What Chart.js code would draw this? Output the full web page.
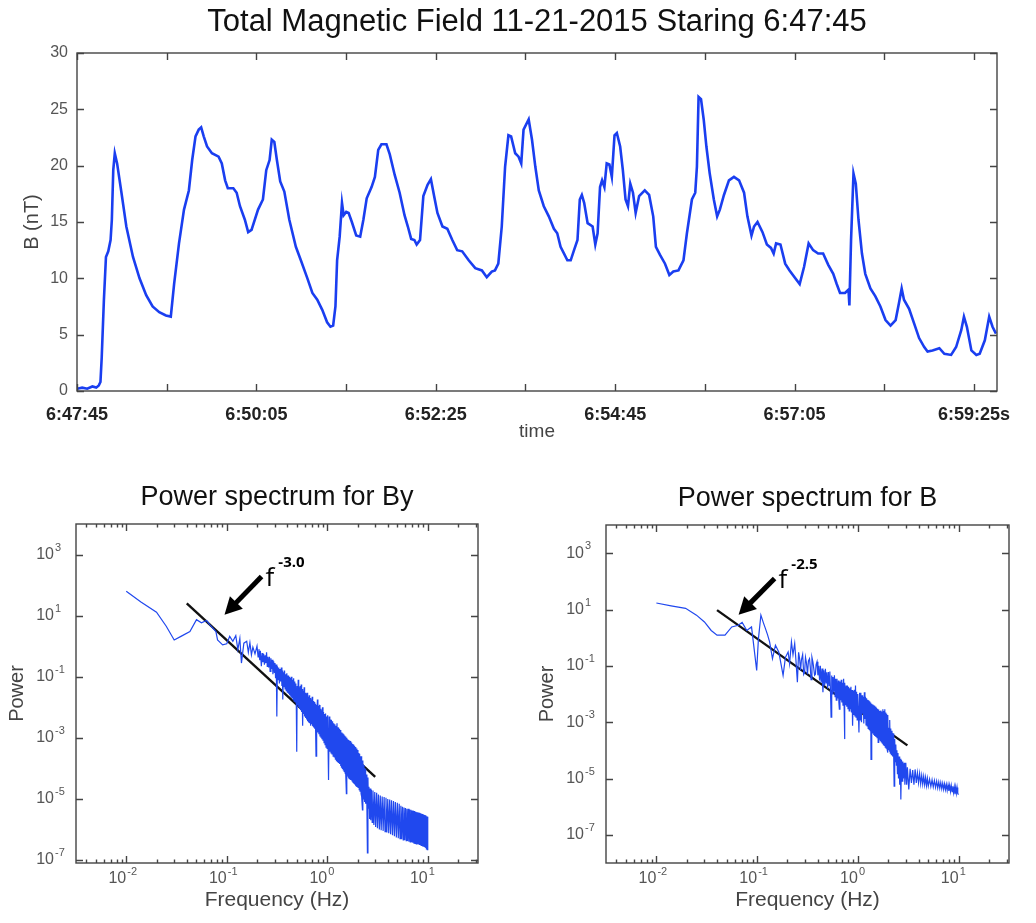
<!DOCTYPE html>
<html>
<head>
<meta charset="utf-8">
<title>Total Magnetic Field 11-21-2015</title>
<script src="https://cdn.jsdelivr.net/npm/chart.js@4.4.1/dist/chart.umd.min.js"></script>
<style>
    html, body { margin: 0; padding: 0; background: #fff; }
    #page { position: relative; width: 1036px; height: 923px; overflow: hidden; }
    #page canvas { position: absolute; }
    #fieldChart { left: 0; top: 0; }
    #byChart { left: 0; top: 460px; }
    #bChart { left: 518px; top: 460px; }
</style>
</head>
<body>
<div id="page">
    <canvas id="fieldChart" width="1036" height="460"></canvas>
    <canvas id="byChart" width="518" height="463"></canvas>
    <canvas id="bChart" width="518" height="463"></canvas>
</div>
<script>
// ---- dades llegides de la figura ----

// temps (s des de 6:47:45) i camp total B (nT)
const totalField = [
    [0, 0.2], [4, 0.3], [8, 0.2], [12, 0.4], [15, 0.3], [17, 0.5], [18.3, 0.8], [19.3, 3.0],
    [21, 8.1], [22.6, 11.9], [24.4, 12.4], [26.2, 13.4], [27.2, 15.2], [28.3, 19.6], [29.5, 21.1],
    [31.3, 20.2], [34.7, 17.6], [38.5, 14.6], [43.7, 11.9], [48.8, 10.0], [54, 8.5], [59, 7.5],
    [64.2, 7.0], [69.4, 6.7], [73.2, 6.6], [75.8, 9.5], [79.6, 13.1], [83.5, 16.1], [87.3, 17.8],
    [89.9, 20.5], [92.5, 22.6], [95, 23.2], [96.9, 23.4], [98.9, 22.6], [101.5, 21.7], [105.3, 21.1],
    [110.5, 20.8], [113, 20.2], [115.6, 18.7], [117.7, 18.0], [122, 18.0], [124.6, 17.6], [127.2, 16.4],
    [131, 15.2], [133.6, 14.1], [136.2, 14.3], [141.3, 16.1], [145.1, 17.0], [147.7, 19.6], [150.3, 20.5],
    [152, 22.3], [154, 22.1], [156, 20.5], [158.6, 18.6], [161.8, 17.7], [165.7, 15.2], [170.8, 12.8],
    [174.7, 11.6], [179.8, 10.0], [183.7, 8.7], [187.5, 8.1], [191.4, 7.2], [195.2, 6.1], [197.8, 5.7],
    [199.9, 5.8], [201.7, 7.5], [203, 11.6], [205, 13.7], [206.8, 16.7], [208.1, 15.6], [210.1, 15.9],
    [212, 15.8], [214.5, 15.0], [217.9, 13.8], [221, 13.7], [223.5, 15.2], [226.1, 17.1], [229.9, 18.1],
    [232.5, 19.0], [235.1, 21.4], [237.6, 21.9], [241.5, 21.9], [244.1, 21.0], [247.9, 19.2], [251.8, 17.6],
    [255.6, 15.6], [258.2, 14.6], [260.8, 13.5], [263.3, 13.4], [265.1, 13.0], [267.7, 13.4], [270.3, 17.3],
    [273.6, 18.3], [276.2, 18.8], [278.7, 17.3], [281.3, 15.8], [285.2, 14.6], [289, 14.4], [292.9, 13.4],
    [296.7, 12.5], [300.6, 12.4], [305.7, 11.6], [310.8, 10.9], [316, 10.7], [319.8, 10.1], [323.7, 10.6],
    [326.2, 10.7], [328.8, 11.3], [331.5, 14.6], [334.1, 19.9], [336.7, 22.7], [338.8, 22.6], [342, 21.1],
    [344.6, 20.8], [346.7, 20.2], [348.5, 23.2], [352.5, 24.1], [355.1, 22.3], [357.7, 19.9], [360.4, 17.8],
    [364.3, 16.4], [368.2, 15.5], [372.2, 14.4], [374.8, 14.0], [377.4, 12.8], [380.1, 12.2], [382.7, 11.6],
    [385.3, 11.6], [387.9, 12.5], [390.6, 13.4], [392.4, 17.0], [394, 17.4], [395.8, 16.7], [398.5, 14.9],
    [402.4, 14.6], [404.5, 13.0], [406.3, 14.0], [408.2, 18.1], [409.8, 18.7], [411.6, 18.1], [413.4, 20.2],
    [415.5, 20.1], [417.4, 19.0], [419.5, 22.7], [421.3, 22.9], [423.9, 21.7], [426, 19.6], [428.1, 17.0],
    [430, 16.4], [431.8, 18.4], [433.9, 17.6], [436, 15.8], [438.7, 17.3], [443.1, 17.8], [446.5, 17.4],
    [449.7, 15.5], [451.8, 12.8], [454.9, 12.1], [458.9, 11.3], [462.3, 10.3], [465.4, 10.6], [469.4, 10.7],
    [473.3, 11.6], [476, 14.0], [479.9, 17.0], [482.5, 17.6], [483.8, 19.9], [485.1, 26.1], [487, 25.9],
    [489.1, 24.1], [491.2, 21.7], [493.8, 19.3], [497, 17.0], [499.6, 15.5], [501.7, 16.1], [504.9, 17.4],
    [508.8, 18.7], [512.7, 19.0], [516.7, 18.7], [520.6, 17.6], [523.2, 15.5], [526.4, 13.8], [528.4, 14.6],
    [531.1, 15.0], [535, 14.1], [538.4, 13.0], [541.6, 12.7], [543.7, 12.2], [545.6, 13.1], [549, 13.0],
    [552.7, 11.3], [556.1, 10.7], [560, 10.1], [564, 9.5], [567.4, 11.0], [571, 13.1], [574.5, 12.5],
    [578.4, 12.2], [582.3, 12.2], [586.3, 11.2], [590.2, 10.4], [592.9, 9.5], [595.5, 8.7], [599.4, 8.7],
    [602.1, 9.0], [602.8, 7.6], [604.1, 13.4], [606, 19.3], [607.8, 18.4], [609.9, 15.2], [612.6, 12.2],
    [615.2, 10.4], [619.2, 9.1], [623.1, 8.4], [627, 7.5], [631, 6.3], [634.9, 5.8], [638.9, 6.3],
    [641.5, 7.8], [643.6, 9.1], [645.4, 8.1], [649.4, 7.3], [653.3, 6.0], [657.2, 4.7], [661.2, 3.9],
    [663.8, 3.5], [667.7, 3.6], [673, 3.8], [676.9, 3.3], [682.2, 3.2], [686.1, 3.9], [690.1, 5.4],
    [692.2, 6.6], [694.5, 5.7], [698, 3.6], [701.9, 3.2], [704.5, 3.3], [708.5, 4.5], [711.9, 6.6],
    [714.5, 5.7], [717.2, 5.1]
];

const timeTicks = [0, 70, 140, 210, 280, 350, 420, 490, 560, 630, 700];
const timeLabels = ['6:47:45', '6:50:05', '6:52:25', '6:54:45', '6:57:05', '6:59:25s'];

// espectre de potència de By: [freqüència (Hz), potència]
const bySpectrum = [
    [0.010, 63], [0.014, 28], [0.020, 13], [0.025, 4.5], [0.030, 1.6], [0.035, 2.1], [0.043, 3.0],
    [0.050, 7.4], [0.056, 5.8], [0.063, 6.9], [0.068, 5.0], [0.078, 3.0], [0.081, 1.6], [0.091, 1.1],
    [0.100, 1.2], [0.107, 2.1], [0.115, 1.45], [0.123, 2.2], [0.129, 0.78], [0.135, 1.8], [0.140, 0.28],
    [0.148, 1.26], [0.158, 1.45], [0.164, 0.63], [0.170, 1.3], [0.176, 0.52], [0.182, 0.93], [0.191, 0.56],
    [0.200, 1.0], [0.205, 0.45], [0.209, 0.8], [0.213, 0.35], [0.216, 0.71], [0.221, 0.22], [0.225, 0.6],
    [0.229, 0.30], [0.233, 0.55], [0.237, 0.25], [0.241, 0.5], [0.245, 0.28], [0.249, 0.63], [0.253, 0.22],
    [0.257, 0.45], [0.261, 0.2], [0.266, 0.45], [0.270, 0.15], [0.275, 0.4], [0.279, 0.18], [0.284, 0.36],
    [0.288, 0.12], [0.293, 0.32], [0.298, 0.14], [0.302, 0.28],
    [0.306, 0.09], [0.311, 0.25], [0.315, 0.005], [0.319, 0.22], [0.324, 0.08], [0.329, 0.2], [0.334, 0.06],
    [0.339, 0.18], [0.344, 0.07], [0.349, 0.2], [0.354, 0.05], [0.358, 0.16], [0.361, 0.018], [0.366, 0.14],
    [0.371, 0.045], [0.376, 0.16], [0.381, 0.04], [0.386, 0.12], [0.391, 0.035], [0.396, 0.13], [0.401, 0.03],
    [0.407, 0.11], [0.412, 0.028], [0.417, 0.1], [0.423, 0.025], [0.428, 0.09], [0.434, 0.022], [0.440, 0.1],
    [0.445, 0.02], [0.451, 0.08], [0.457, 0.018], [0.463, 0.09], [0.469, 0.016], [0.475, 0.07], [0.481, 0.015],
    [0.487, 0.06], [0.492, 0.013], [0.497, 3.5e-4], [0.502, 0.05],
    [0.508, 0.012], [0.514, 0.08], [0.520, 0.01], [0.526, 0.045], [0.532, 0.009], [0.538, 0.05], [0.544, 0.008],
    [0.550, 0.056], [0.556, 0.007], [0.563, 0.04], [0.569, 0.0025], [0.576, 0.035], [0.582, 0.006],
    [0.589, 0.045], [0.595, 0.005], [0.602, 0.03], [0.610, 0.0045], [0.617, 0.028], [0.624, 0.004],
    [0.631, 0.03], [0.638, 0.0035], [0.646, 0.022], [0.653, 0.0032], [0.661, 0.025], [0.668, 0.003],
    [0.676, 0.02], [0.684, 0.0025], [0.692, 0.018], [0.700, 0.0028], [0.708, 0.022], [0.716, 0.0024],
    [0.725, 0.016], [0.733, 0.0022], [0.742, 0.015], [0.750, 0.002], [0.759, 0.013], [0.766, 0.0018],
    [0.773, 2.5e-4], [0.780, 0.012], [0.789, 0.0016], [0.798, 0.018], [0.807, 0.0015], [0.817, 0.011],
    [0.826, 0.0013], [0.836, 0.012], [0.846, 0.0011], [0.856, 0.009], [0.866, 0.001], [0.876, 0.008],
    [0.886, 9e-4], [0.897, 0.01], [0.907, 8e-4], [0.918, 0.007], [0.929, 7e-4], [0.940, 0.006],
    [0.951, 6e-4], [0.962, 0.0063], [0.973, 5e-4], [0.985, 0.005],
    [0.997, 4.5e-4], [1.01, 0.0055], [1.02, 4e-4], [1.03, 4.2e-5], [1.045, 0.005], [1.06, 3.5e-4],
    [1.075, 0.004], [1.09, 3.2e-4], [1.10, 0.0039], [1.115, 3e-4], [1.13, 0.0035], [1.145, 2.5e-4],
    [1.16, 0.003], [1.175, 2.4e-4], [1.19, 0.0028], [1.205, 2e-4], [1.22, 0.0025], [1.235, 1.8e-4],
    [1.25, 0.003], [1.265, 1.6e-4], [1.28, 0.0022], [1.295, 1.5e-4], [1.31, 0.002], [1.325, 1.4e-4],
    [1.34, 0.0018], [1.355, 1.2e-4], [1.37, 0.0016], [1.385, 1.1e-4], [1.40, 0.0015], [1.415, 1e-4],
    [1.43, 0.0014], [1.445, 9e-5], [1.46, 0.0013], [1.475, 8e-5], [1.49, 0.0012], [1.505, 7e-5],
    [1.52, 0.0011], [1.535, 6.5e-5], [1.55, 1.5e-5], [1.565, 0.001], [1.58, 6e-5], [1.60, 9e-4],
    [1.615, 5.5e-5], [1.63, 8.5e-4], [1.645, 5e-5], [1.66, 8e-4], [1.675, 4.5e-5], [1.69, 7.9e-4],
    [1.71, 4.2e-5], [1.725, 7e-4], [1.74, 4e-5], [1.76, 6.5e-4], [1.775, 3.8e-5], [1.79, 6.3e-4],
    [1.81, 3.5e-5], [1.83, 6e-4], [1.85, 3.2e-5], [1.87, 5.5e-4], [1.89, 3e-5], [1.91, 5e-4],
    [1.93, 2.8e-5], [1.95, 4.5e-4], [1.97, 2.6e-5], [2.00, 2.5e-5],
    [2.02, 4e-4], [2.04, 2.4e-5], [2.06, 3.2e-4], [2.08, 2e-5], [2.10, 3e-4], [2.12, 1.8e-5], [2.15, 2.5e-4],
    [2.17, 1.5e-5], [2.19, 2.5e-4], [2.21, 1.2e-5], [2.24, 4.4e-6], [2.26, 1.8e-4], [2.29, 1e-5],
    [2.32, 1.3e-4], [2.35, 8e-6], [2.38, 1e-4], [2.41, 7e-6], [2.45, 6.3e-5], [2.48, 6e-6], [2.51, 1.7e-7],
    [2.54, 5e-5], [2.57, 5e-6],
    [2.60, 2.5e-5], [2.64, 2.2e-6], [2.67, 2.2e-5], [2.71, 2e-6], [2.75, 2e-5], [2.80, 1.7e-6], [2.85, 1.9e-5],
    [2.91, 1.4e-6], [2.97, 1.7e-5], [3.03, 1.2e-6], [3.10, 1.6e-5], [3.16, 1.1e-6], [3.23, 1.4e-5],
    [3.30, 1e-6], [3.37, 1.3e-5], [3.44, 9.5e-7], [3.52, 1.2e-5], [3.60, 9e-7], [3.68, 1.15e-5],
    [3.76, 8.5e-7], [3.84, 1.1e-5], [3.92, 8e-7], [4.00, 1e-5], [4.09, 7.5e-7], [4.18, 9.5e-6],
    [4.27, 7e-7], [4.36, 9e-6], [4.46, 6.5e-7], [4.56, 8.5e-6], [4.66, 6e-7], [4.76, 8e-6], [4.87, 5.5e-7],
    [4.98, 7.5e-6], [5.09, 5.2e-7], [5.20, 7e-6],
    [5.3, 5e-7], [5.4, 6e-6], [5.5, 4.8e-7], [5.6, 5.5e-6], [5.7, 4.6e-7], [5.8, 5.2e-6], [5.9, 4.5e-7],
    [6.0, 5e-6], [6.1, 4.3e-7], [6.2, 4.8e-6], [6.3, 4.2e-7], [6.4, 4.8e-6], [6.5, 4e-7], [6.6, 4.5e-6],
    [6.7, 3.9e-7], [6.8, 4.4e-6], [6.9, 3.8e-7], [7.0, 4.2e-6], [7.1, 3.7e-7], [7.2, 4.1e-6], [7.3, 3.6e-7],
    [7.4, 4e-6], [7.5, 3.5e-7], [7.6, 3.8e-6], [7.7, 3.4e-7], [7.8, 3.7e-6], [7.9, 3.3e-7], [8.0, 3.6e-6],
    [8.1, 3.2e-7], [8.2, 3.5e-6], [8.3, 3.1e-7], [8.4, 3.4e-6], [8.5, 3e-7], [8.6, 3.3e-6], [8.7, 2.9e-7],
    [8.8, 3.2e-6], [8.9, 2.8e-7], [9.0, 3.1e-6], [9.1, 2.7e-7], [9.2, 3e-6], [9.3, 2.6e-7], [9.4, 2.9e-6],
    [9.5, 2.5e-7], [9.6, 2.8e-6], [9.7, 2.3e-7], [9.8, 2.7e-6], [9.9, 2.2e-7], [10.0, 2.6e-6]
];

// espectre de potència de B
const bSpectrum = [
    [0.010, 17], [0.014, 13.5], [0.0195, 11], [0.025, 6.3], [0.030, 3.6], [0.035, 1.8], [0.040, 1.23],
    [0.048, 1.23], [0.056, 2.4], [0.065, 2.75], [0.071, 3.5], [0.079, 1.8], [0.088, 2.4], [0.099, 0.069],
    [0.103, 0.91], [0.109, 6.3], [0.115, 3.5], [0.121, 2.1], [0.127, 1.26], [0.133, 0.71], [0.142, 0.18],
    [0.152, 0.54], [0.164, 0.31], [0.174, 0.10], [0.181, 0.046], [0.191, 0.20], [0.203, 0.31], [0.210, 0.12],
    [0.219, 0.71], [0.227, 0.25], [0.236, 0.62], [0.243, 0.15], [0.251, 0.026], [0.258, 0.3], [0.264, 0.18],
    [0.270, 0.07], [0.275, 0.16], [0.283, 0.25], [0.290, 0.05], [0.296, 0.059], [0.302, 0.2], [0.309, 0.126],
    [0.316, 0.05], [0.323, 0.15], [0.331, 0.18], [0.337, 0.09], [0.343, 0.032], [0.350, 0.2], [0.358, 0.135],
    [0.365, 0.08], [0.372, 0.046], [0.379, 0.05], [0.385, 0.11], [0.393, 0.14], [0.401, 0.046],
    [0.408, 0.10], [0.417, 0.03], [0.424, 0.10], [0.432, 0.025], [0.441, 0.08], [0.450, 0.0115], [0.459, 0.07],
    [0.468, 0.02], [0.476, 0.079], [0.484, 0.025], [0.492, 0.059], [0.501, 0.0158], [0.510, 0.06],
    [0.519, 0.02], [0.527, 0.063], [0.535, 0.012], [0.542, 0.0015], [0.550, 0.045], [0.558, 0.01],
    [0.566, 0.040], [0.575, 0.012], [0.585, 0.046], [0.594, 0.008], [0.602, 0.035], [0.610, 0.006],
    [0.620, 0.035], [0.631, 0.007], [0.641, 0.03], [0.648, 0.005], [0.655, 0.0029], [0.664, 0.028],
    [0.674, 0.006], [0.684, 0.032], [0.693, 0.005], [0.702, 0.025], [0.712, 0.004], [0.722, 0.035],
    [0.730, 0.004], [0.735, 2.5e-4], [0.745, 0.025], [0.755, 0.004], [0.765, 0.02], [0.776, 0.0035],
    [0.787, 0.02], [0.798, 0.003], [0.809, 0.018], [0.820, 0.0025], [0.831, 0.016], [0.842, 0.003],
    [0.853, 0.018], [0.864, 0.0022], [0.876, 0.014], [0.883, 0.002], [0.889, 7.4e-4], [0.900, 0.013],
    [0.912, 0.0018], [0.923, 0.014], [0.935, 0.0016], [0.947, 0.02], [0.959, 0.0015], [0.971, 0.012],
    [0.984, 0.0012], [0.997, 0.01],
    [1.01, 0.0025], [1.025, 4.3e-4], [1.04, 0.011], [1.055, 0.0012], [1.07, 0.011], [1.085, 0.001],
    [1.10, 0.009], [1.115, 0.002], [1.13, 0.008], [1.145, 9e-4], [1.16, 0.0115], [1.175, 0.0013],
    [1.19, 0.008], [1.205, 8e-4], [1.22, 0.007], [1.235, 7.4e-4], [1.25, 0.0063], [1.265, 6e-4],
    [1.28, 0.006], [1.295, 5.5e-4], [1.31, 0.0055], [1.325, 5e-4], [1.34, 0.005], [1.35, 4.8e-5],
    [1.365, 0.0045], [1.38, 4.5e-4], [1.395, 0.0042], [1.41, 4e-4], [1.425, 0.004], [1.44, 3.5e-4],
    [1.455, 0.0038], [1.47, 3.2e-4], [1.49, 0.0035], [1.51, 3e-4], [1.53, 0.0032], [1.55, 2.8e-4],
    [1.57, 0.003], [1.59, 1.9e-4], [1.61, 0.0028], [1.63, 2.5e-4], [1.65, 0.0025], [1.67, 2.2e-4],
    [1.69, 0.0026], [1.71, 2e-4], [1.73, 0.0024], [1.75, 1.8e-4], [1.77, 0.0029], [1.79, 1.6e-4],
    [1.81, 0.0025], [1.83, 1.5e-4], [1.85, 0.0029], [1.87, 1.3e-4], [1.89, 0.0022], [1.91, 1.2e-4],
    [1.93, 0.002], [1.95, 1.1e-4], [1.97, 8.3e-5], [1.99, 0.0018], [2.01, 1e-4], [2.04, 6.3e-4],
    [2.06, 9e-5], [2.08, 0.0012], [2.10, 8e-5], [2.12, 6e-4], [2.15, 7e-5], [2.18, 5e-4], [2.21, 6e-5],
    [2.24, 4e-4], [2.27, 5e-5], [2.29, 5.4e-6], [2.32, 2.5e-4],
    [2.35, 4e-5], [2.38, 1.6e-4], [2.41, 3e-5], [2.44, 1e-4], [2.47, 1.5e-5], [2.50, 8e-5], [2.53, 1e-5],
    [2.57, 6e-5], [2.60, 6e-6], [2.64, 5e-5], [2.67, 1.8e-6], [2.71, 4.5e-5], [2.75, 8e-6], [2.79, 4e-5],
    [2.83, 1e-5], [2.88, 3.6e-5], [2.93, 6e-6], [2.99, 3.6e-5],
    [3.05, 6e-6], [3.1, 2.5e-5], [3.2, 4.1e-6], [3.3, 2.2e-5], [3.4, 7e-6], [3.5, 2e-5], [3.6, 6e-6],
    [3.7, 2.1e-5], [3.8, 7e-6], [3.9, 1.6e-5], [4.0, 7e-6], [4.1, 1.5e-5], [4.2, 6.5e-6], [4.3, 1.3e-5],
    [4.4, 6.3e-6], [4.5, 1.2e-5], [4.6, 6e-6], [4.7, 1.1e-5], [4.8, 5.6e-6], [4.9, 1.0e-5], [5.0, 5.4e-6],
    [5.15, 9.5e-6], [5.3, 5.2e-6], [5.45, 9e-6], [5.6, 5e-6], [5.75, 8.5e-6], [5.9, 4.8e-6], [6.05, 8e-6],
    [6.2, 4.6e-6], [6.35, 7.6e-6], [6.5, 4.5e-6], [6.65, 7.2e-6], [6.8, 4.3e-6], [6.95, 6.8e-6],
    [7.1, 4.1e-6], [7.25, 6.5e-6], [7.4, 4e-6], [7.55, 6.2e-6], [7.7, 3.8e-6], [7.85, 6e-6], [8.0, 3.6e-6],
    [8.15, 5.8e-6], [8.3, 3.5e-6], [8.45, 5.6e-6], [8.6, 3.4e-6], [8.75, 5.3e-6], [8.9, 3.2e-6],
    [9.05, 5e-6], [9.2, 2.8e-6], [9.35, 4.9e-6], [9.5, 3e-6], [9.65, 4.8e-6], [9.8, 2.9e-6], [10.0, 2.7e-6]
];

// rectes d'ajust (llei de potència)
const byFit = [[0.04, 25], [3.0, 5.3e-5]];
const bFit = [[0.04, 9.5], [3.1, 1.5e-4]];

const freqTicks = [0.01, 0.1, 1, 10];
const powerTicks = [1e-7, 1e-5, 1e-3, 1e-1, 1e1, 1e3];

const LINE_BLUE = '#1a3ef0';
const SPEC_BLUE = '#2048ee';

Chart.defaults.font.family = '"Liberation Sans", Arial, sans-serif';
Chart.defaults.color = '#444';

/**
 * Marc del gràfic i marques cap a dins (estil matlab)
 */
const frameTicks = {
    id: 'frameTicks',
    afterDatasetsDraw(chart, args, opts) {
        const { ctx, chartArea: a, scales: { x, y } } = chart;
        ctx.save();
        ctx.strokeStyle = opts.color;
        ctx.lineWidth = opts.width;
        ctx.beginPath();
        x.ticks.forEach(t => {
            const px = Math.round(x.getPixelForValue(t.value)) + 0.5;
            const len = t.minor ? opts.minorLen : opts.len;
            ctx.moveTo(px, a.bottom); ctx.lineTo(px, a.bottom - len);
            ctx.moveTo(px, a.top); ctx.lineTo(px, a.top + len);
        });
        y.ticks.forEach(t => {
            const py = Math.round(y.getPixelForValue(t.value)) + 0.5;
            ctx.moveTo(a.left, py); ctx.lineTo(a.left + opts.len, py);
            ctx.moveTo(a.right, py); ctx.lineTo(a.right - opts.len, py);
        });
        ctx.stroke();
        ctx.strokeRect(a.left, a.top, a.right - a.left, a.bottom - a.top);
        ctx.restore();
    }
};

/**
 * Etiquetes 10^n amb exponent elevat
 */
const powerLabels = {
    id: 'powerLabels',
    afterDraw(chart, args, opts) {
        if (!opts.xValues) return;
        const { ctx, chartArea: a, scales: { x, y } } = chart;
        ctx.save();
        ctx.fillStyle = '#555';
        ctx.textBaseline = 'middle';
        const put = (px, py, v) => {
            ctx.font = '16px "Liberation Sans", Arial, sans-serif';
            ctx.textAlign = 'right';
            ctx.fillText('10', px, py);
            ctx.font = '11px "Liberation Sans", Arial, sans-serif';
            ctx.textAlign = 'left';
            ctx.fillText(String(Math.round(Math.log10(v))), px + 1, py - 7);
        };
        opts.xValues.forEach(v => put(x.getPixelForValue(v), a.bottom + 16, v));
        opts.yValues.forEach(v => put(a.left - 22, y.getPixelForValue(v), v));
        ctx.restore();
    }
};

/**
 * Fletxa i etiqueta f^n
 */
const slopeNote = {
    id: 'slopeNote',
    afterDatasetsDraw(chart, args, opts) {
        if (!opts.tip) return;
        const { ctx, scales: { x, y } } = chart;
        const tip = [x.getPixelForValue(opts.tip[0]), y.getPixelForValue(opts.tip[1])];
        const tail = [x.getPixelForValue(opts.tail[0]), y.getPixelForValue(opts.tail[1])];
        const ang = Math.atan2(tip[1] - tail[1], tip[0] - tail[0]);
        const head = 17, half = 9;
        const base = [tip[0] - head * Math.cos(ang), tip[1] - head * Math.sin(ang)];
        ctx.save();
        ctx.strokeStyle = '#000';
        ctx.fillStyle = '#000';
        ctx.lineWidth = 5;
        ctx.beginPath();
        ctx.moveTo(tail[0], tail[1]);
        ctx.lineTo(base[0] + 2 * Math.cos(ang), base[1] + 2 * Math.sin(ang));
        ctx.stroke();
        ctx.beginPath();
        ctx.moveTo(tip[0], tip[1]);
        ctx.lineTo(base[0] + half * Math.sin(ang), base[1] - half * Math.cos(ang));
        ctx.lineTo(base[0] - half * Math.sin(ang), base[1] + half * Math.cos(ang));
        ctx.closePath();
        ctx.fill();
        ctx.textAlign = 'left';
        ctx.textBaseline = 'alphabetic';
        ctx.font = '26px "Open Sans", sans-serif';
        ctx.fillText('f', tail[0] + 4, tail[1] + 9);
        const fw = ctx.measureText('f').width;
        ctx.font = 'bold 15px "Open Sans", sans-serif';
        ctx.fillText(opts.power, tail[0] + 8 + fw, tail[1] - 10);
        ctx.restore();
    }
};

// ---- gràfica superior: camp total ----
new Chart(document.getElementById('fieldChart'), {
    type: 'line',
    data: {
        datasets: [{
            data: totalField.map(([t, b]) => ({ x: t, y: b })),
            borderColor: LINE_BLUE,
            borderWidth: 2.6,
            pointRadius: 0,
            tension: 0
        }]
    },
    options: {
        responsive: false,
        animation: false,
        layout: { padding: { left: 0, right: 39, top: 0, bottom: 0 } },
        plugins: {
            legend: { display: false },
            tooltip: { enabled: false },
            title: {
                display: true,
                fullSize: false,
                text: 'Total Magnetic Field 11-21-2015 Staring 6:47:45',
                color: '#111',
                font: { size: 31, weight: 'normal' },
                padding: { top: 4.2, bottom: 11.6 }
            },
            frameTicks: { color: '#444', width: 1.4, len: 7, minorLen: 7 }
        },
        scales: {
            x: {
                type: 'linear',
                min: 0,
                max: 718,
                afterBuildTicks: s => { s.ticks = timeTicks.map(v => ({ value: v })); },
                afterFit: s => { s.height = 69; },
                grid: { display: false, drawTicks: false },
                border: { display: false },
                ticks: {
                    autoSkip: false,
                    maxRotation: 0,
                    padding: 13,
                    color: '#222',
                    font: { size: 18, weight: 'bold' },
                    callback: v => {
                        const i = timeTicks.indexOf(v);
                        return i % 2 === 0 ? timeLabels[i / 2] : '';
                    }
                },
                title: {
                    display: true,
                    text: 'time',
                    color: '#444',
                    font: { size: 19 },
                    padding: { top: 0, bottom: 16.6 }
                }
            },
            y: {
                min: 0,
                max: 30,
                afterFit: s => { s.width = 77; },
                grid: { display: false, drawTicks: false },
                border: { display: false },
                ticks: { stepSize: 5, padding: 9, color: '#555', font: { size: 16 } },
                title: {
                    display: true,
                    text: 'B (nT)',
                    color: '#444',
                    font: { size: 20 },
                    padding: { top: 20, bottom: 0 }
                }
            }
        }
    },
    plugins: [frameTicks]
});

// ---- gràfiques inferiors: espectres ----
function logTicks(s) {
    const list = [];
    for (let e = -3; e <= 1; e++) {
        for (let m = 1; m <= 9; m++) {
            const v = m * Math.pow(10, e);
            if (v >= s.min && v <= s.max) list.push({ value: v, minor: m !== 1 });
        }
    }
    s.ticks = list;
}

function spectrumChart(canvasId, cfg) {
    return new Chart(document.getElementById(canvasId), {
        type: 'line',
        data: {
            datasets: [{
                data: cfg.spectrum.map(([f, p]) => ({ x: f, y: p })),
                borderColor: SPEC_BLUE,
                borderWidth: 1.2,
                pointRadius: 0,
                tension: 0
            }, {
                data: cfg.fit.map(([f, p]) => ({ x: f, y: p })),
                borderColor: '#111',
                borderWidth: 2.4,
                pointRadius: 0
            }]
        },
        options: {
            responsive: false,
            animation: false,
            layout: { padding: { left: 0, right: cfg.padRight, top: 0, bottom: 0 } },
            plugins: {
                legend: { display: false },
                tooltip: { enabled: false },
                title: {
                    display: true,
                    fullSize: false,
                    text: cfg.title,
                    color: '#111',
                    font: { size: 27, weight: 'normal' },
                    padding: { top: cfg.titleTop, bottom: 9.8 }
                },
                frameTicks: { color: '#444', width: 1.4, len: 7, minorLen: 3.5 },
                powerLabels: { xValues: freqTicks, yValues: powerTicks },
                slopeNote: cfg.note
            },
            scales: {
                x: {
                    type: 'logarithmic',
                    min: Math.pow(10, -2.5),
                    max: Math.pow(10, 1.5),
                    afterBuildTicks: logTicks,
                    afterFit: s => { s.height = 60; },
                    grid: { display: false },
                    border: { display: false },
                    ticks: { display: false },
                    title: {
                        display: true,
                        text: 'Frequency (Hz)',
                        color: '#444',
                        font: { size: 21 },
                        padding: { top: 0, bottom: 10.4 }
                    }
                },
                y: {
                    type: 'logarithmic',
                    min: cfg.yMin,
                    max: 1e4,
                    afterBuildTicks: s => { s.ticks = powerTicks.map(v => ({ value: v })); },
                    afterFit: s => { s.width = cfg.axisWidth; },
                    grid: { display: false },
                    border: { display: false },
                    ticks: { display: false },
                    title: {
                        display: true,
                        text: 'Power',
                        color: '#444',
                        font: { size: 20 },
                        padding: { top: cfg.labelPad, bottom: 0 }
                    }
                }
            }
        },
        plugins: [frameTicks, powerLabels, slopeNote]
    });
}

spectrumChart('byChart', {
    title: 'Power spectrum for By',
    spectrum: bySpectrum,
    fit: byFit,
    yMin: 8e-8,
    axisWidth: 76,
    padRight: 40,
    titleTop: 21.8,
    labelPad: 5,
    note: { tip: [0.095, 10.8], tail: [0.222, 190], power: '-3.0' }
});

spectrumChart('bChart', {
    title: 'Power spectrum for B',
    spectrum: bSpectrum,
    fit: bFit,
    yMin: 1e-8,
    axisWidth: 88,
    padRight: 27,
    titleTop: 22.8,
    labelPad: 17,
    note: { tip: [0.0655, 6.5], tail: [0.149, 125], power: '-2.5' }
});
</script>
</body>
</html>
